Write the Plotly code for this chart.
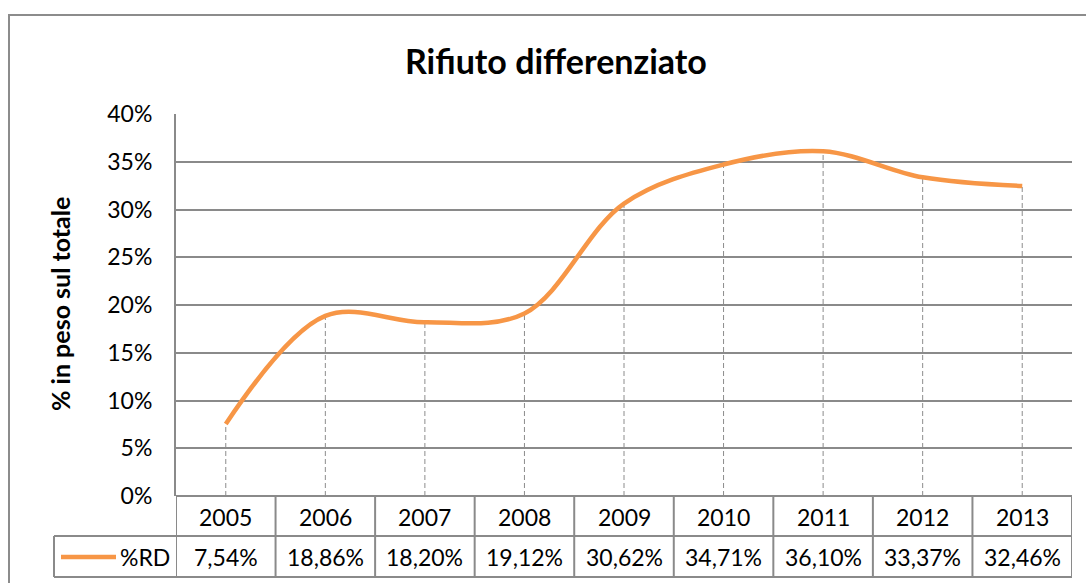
import plotly.graph_objects as go

years = ["2005", "2006", "2007", "2008", "2009", "2010", "2011", "2012", "2013"]
rd_values = [7.54, 18.86, 18.20, 19.12, 30.62, 34.71, 36.10, 33.37, 32.46]
rd_labels = ["7,54%", "18,86%", "18,20%", "19,12%", "30,62%", "34,71%", "36,10%", "33,37%", "32,46%"]
series_name = "%RD"
title_text = "Rifiuto differenziato"
y_title = "% in peso sul totale"
y_ticks = [0, 5, 10, 15, 20, 25, 30, 35, 40]

FONT = "Lato"
ORANGE = "#F79646"
GRID = "#8a8a8a"

W, H = 1086, 583
L, R, T, B = 176, 14, 114, 87
PH = H - T - B
PW = W - L - R


def py(Y):
    return (H - B - Y) / PH


def px(X):
    return (X - L) / PW


fig = go.Figure()

# drop lines
dx, dy = [], []
for i, v in enumerate(rd_values):
    dx += [years[i], years[i], None]
    dy += [0, v, None]
fig.add_trace(go.Scatter(x=dx, y=dy, mode="lines",
                         line=dict(color="#8c8c8c", width=1, dash="5px,3px"),
                         hoverinfo="skip", showlegend=False))

fig.add_trace(go.Scatter(x=years, y=rd_values, mode="lines", name=series_name,
                         line=dict(color=ORANGE, width=4.5, shape="spline", smoothing=1.0),
                         showlegend=False))

shapes = []
# outer chart border
shapes.append(dict(type="rect", xref="paper", yref="paper",
                   x0=px(9), x1=px(1100), y0=py(15), y1=py(600),
                   line=dict(color="#8c8c8c", width=2), layer="below"))
# table horizontal lines
shapes.append(dict(type="line", xref="x", yref="paper", x0=-0.5, x1=len(years) - 0.5,
                   y0=py(496), y1=py(496), line=dict(color=GRID, width=2)))
for Y in (536, 577):
    shapes.append(dict(type="line", xref="paper", yref="paper", x0=px(54), x1=1.0,
                       y0=py(Y), y1=py(Y), line=dict(color=GRID, width=2)))
# table vertical lines
for i in range(len(years) + 1):
    shapes.append(dict(type="line", xref="x", yref="paper", x0=i - 0.5, x1=i - 0.5,
                       y0=py(496), y1=py(577), line=dict(color=GRID, width=2)))
shapes.append(dict(type="line", xref="paper", yref="paper", x0=px(54), x1=px(54),
                   y0=py(536), y1=py(577), line=dict(color=GRID, width=2)))
# legend key line
shapes.append(dict(type="line", xref="paper", yref="paper", x0=px(61), x1=px(116),
                   y0=py(557), y1=py(557), line=dict(color=ORANGE, width=4.5)))

annotations = []
for i, yr in enumerate(years):
    annotations.append(dict(x=i, y=py(517), xref="x", yref="paper", text=yr, showarrow=False,
                            font=dict(family=FONT, size=23, color="black"), xanchor="center", yanchor="middle"))
    annotations.append(dict(x=i, y=py(557), xref="x", yref="paper", text=rd_labels[i], showarrow=False,
                            font=dict(family=FONT, size=23, color="black"), xanchor="center", yanchor="middle"))
annotations.append(dict(x=px(118), y=py(557), xref="paper", yref="paper", text=series_name, showarrow=False,
                        font=dict(family=FONT, size=23, color="black"), xanchor="left", yanchor="middle"))
annotations.append(dict(x=px(556), y=py(60), xref="paper", yref="paper", text="<b>" + title_text + "</b>",
                        showarrow=False, font=dict(family=FONT, size=34, color="black"),
                        xanchor="center", yanchor="middle"))
annotations.append(dict(x=px(60), y=py(304), xref="paper", yref="paper", text="<b>" + y_title + "</b>",
                        showarrow=False, textangle=-90, font=dict(family=FONT, size=25, color="black"),
                        xanchor="center", yanchor="middle"))

fig.update_layout(
    width=W, height=H,
    margin=dict(l=L, r=R, t=T, b=B, pad=0),
    paper_bgcolor="white", plot_bgcolor="white",
    shapes=shapes, annotations=annotations,
    showlegend=False,
    xaxis=dict(type="category", range=[-0.5, len(years) - 0.5], showticklabels=False,
               showgrid=False, zeroline=False, showline=False, ticks=""),
    yaxis=dict(range=[0, 40], tickvals=y_ticks, ticktext=[f"{t}%" for t in y_ticks],
               showgrid=True, gridcolor=GRID, gridwidth=2, zeroline=False,
               showline=True, linecolor=GRID, linewidth=2, ticks="",
               tickfont=dict(family=FONT, size=23, color="black"), ticklabelstandoff=17),
)

fig.write_html("out.html", config={"displayModeBar": False},
               post_script="document.body.style.margin='0';document.body.style.overflow='hidden';")
